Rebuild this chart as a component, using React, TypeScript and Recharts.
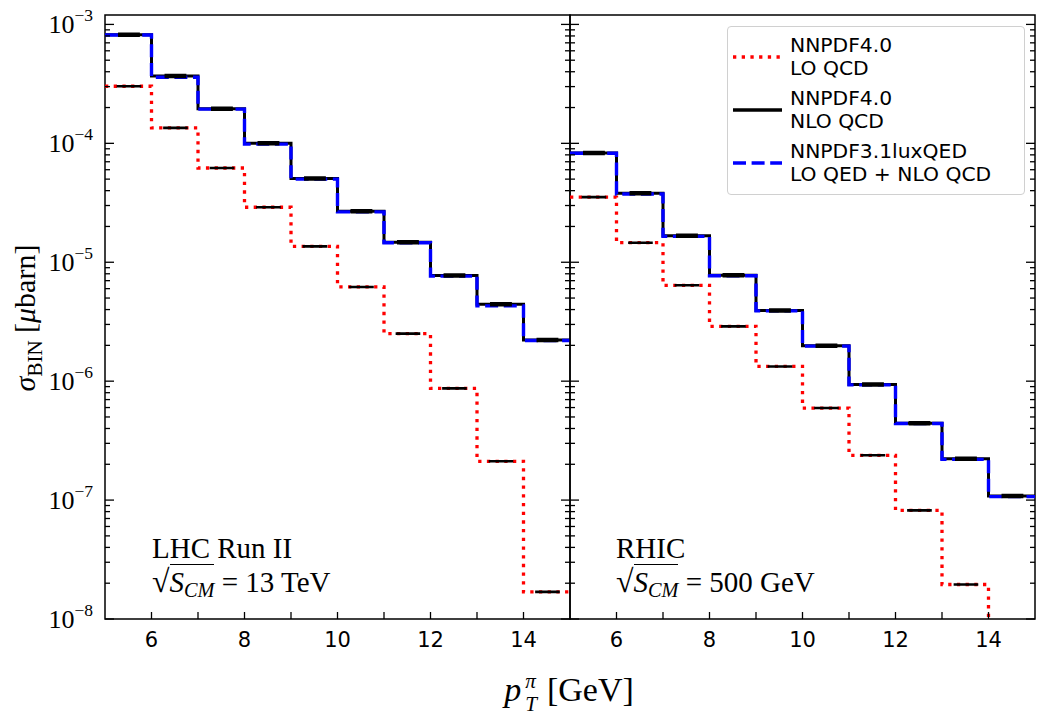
import React from 'react';
import { LineChart, Line, XAxis, YAxis, ReferenceArea } from 'recharts';

// bin edges in p_T (GeV), values are the per-bin cross sections in microbarn
const binEdges = [5, 6, 7, 8, 9, 10, 11, 12, 13, 14, 15];

const lhcLO = [3.02e-4, 1.35e-4, 6.2e-5, 2.9e-5, 1.36e-5, 6.2e-6, 2.51e-6, 8.7e-7, 2.12e-7, 1.69e-8];
const lhcNLO = [8.2e-4, 3.69e-4, 1.95e-4, 1.0e-4, 5.07e-5, 2.69e-5, 1.47e-5, 7.73e-6, 4.43e-6, 2.22e-6];
const lhcQED = [8.15e-4, 3.6e-4, 1.94e-4, 9.85e-5, 5.0e-5, 2.65e-5, 1.46e-5, 7.65e-6, 4.3e-6, 2.2e-6];

const rhicLO = [3.53e-5, 1.46e-5, 6.4e-6, 2.89e-6, 1.33e-6, 5.94e-7, 2.38e-7, 8.2e-8, 1.95e-8, 6e-9];
const rhicNLO = [8.3e-5, 3.8e-5, 1.67e-5, 7.76e-6, 3.93e-6, 1.99e-6, 9.36e-7, 4.43e-7, 2.23e-7, 1.08e-7];
const rhicQED = [8.25e-5, 3.75e-5, 1.65e-5, 7.7e-6, 3.9e-6, 1.97e-6, 9.3e-7, 4.4e-7, 2.2e-7, 1.07e-7];

const xTicks = [6, 7, 8, 9, 10, 11, 12, 13, 14];
const xLabelTicks = [6, 8, 10, 12, 14];
const yDecades = [1e-8, 1e-7, 1e-6, 1e-5, 1e-4, 1e-3];
const yMantissas = [1, 2, 3, 4, 5, 6, 7, 8, 9];
const yDomain = [1e-8, 1.2e-3];

const yTicks = yDecades.flatMap((d) => yMantissas.map((m) => m * d)).filter((v) => v <= yDomain[1]);

const SERIF = '"Liberation Serif", "DejaVu Serif", serif';
const SANS = '"DejaVu Sans", sans-serif';

const RED = '#ff0000';
const BLUE = '#0000ff';

const stepData = (vals: number[]) =>
  binEdges.map((x, i) => ({ x, y: vals[Math.min(i, vals.length - 1)] }));

// short black marks drawn across the middle of each bin
const bandData = (vals: number[], a: number, b: number) =>
  vals.flatMap((v, i) => [
    { x: binEdges[i] + a, y: v },
    { x: binEdges[i] + b, y: v },
    { x: binEdges[i] + b + 0.01, y: null },
  ]);

const isMajor = (v: number) => {
  const l = Math.log10(v);
  return Math.abs(l - Math.round(l)) < 1e-6;
};

const YTick = (props: any) => {
  const { x, y, payload, side, labels } = props;
  const v = payload.value;
  const major = isMajor(v);
  const len = major ? 9 : 5;
  const dir = side === 'left' ? 1 : -1;
  return (
    <g>
      <line x1={x} x2={x + dir * len} y1={y} y2={y} stroke="#000" strokeWidth={1.3} />
      {labels && major && (
        <text x={x - 12} y={y + 9} textAnchor="end" fontFamily={SERIF} fontSize={26} fill="#000">
          10
          <tspan dy={-12} fontSize={17.5}>
            {'\u2212' + Math.abs(Math.round(Math.log10(v)))}
          </tspan>
        </text>
      )}
    </g>
  );
};

const XTick = (props: any) => {
  const { x, y, payload } = props;
  const v = payload.value;
  return (
    <g>
      <line x1={x} x2={x} y1={y} y2={y - 7} stroke="#000" strokeWidth={1.3} />
      {xLabelTicks.includes(v) && (
        <text x={x} y={y + 28} textAnchor="middle" fontFamily={SANS} fontSize={21} fill="#000">
          {v}
        </text>
      )}
    </g>
  );
};

type PanelProps = {
  lo: number[];
  nlo: number[];
  qed: number[];
  left: number;
  width: number;
  leftAxisWidth: number;
  marginRight: number;
  labels: boolean;
};

const Panel = ({ lo, nlo, qed, left, width, leftAxisWidth, marginRight, labels }: PanelProps) => (
  <div style={{ position: 'absolute', left, top: 0 }}>
    <LineChart width={width} height={720} margin={{ top: 15, right: marginRight, bottom: 0, left: 0 }}>
      <XAxis
        dataKey="x"
        type="number"
        domain={[5, 15]}
        ticks={xTicks}
        interval={0}
        height={101}
        tickSize={0}
        tickMargin={0}
        axisLine={false}
        tickLine={false}
        tick={(p: any) => <XTick {...p} />}
      />
      <YAxis
        yAxisId="l"
        orientation="left"
        scale="log"
        type="number"
        domain={yDomain}
        allowDataOverflow
        ticks={yTicks}
        interval={0}
        width={leftAxisWidth}
        tickSize={0}
        tickMargin={0}
        axisLine={false}
        tickLine={false}
        tick={(p: any) => <YTick {...p} side="left" labels={labels} />}
      />
      <YAxis
        yAxisId="r"
        orientation="right"
        scale="log"
        type="number"
        domain={yDomain}
        allowDataOverflow
        ticks={yTicks}
        interval={0}
        width={2}
        tickSize={0}
        tickMargin={0}
        axisLine={false}
        tickLine={false}
        tick={(p: any) => <YTick {...p} side="right" labels={false} />}
      />
      <Line
        yAxisId="l"
        data={stepData(lo)}
        dataKey="y"
        type="stepAfter"
        stroke={RED}
        strokeWidth={3.3}
        strokeDasharray="3.3 5.4"
        dot={false}
        activeDot={false}
        isAnimationActive={false}
      />
      <Line
        yAxisId="l"
        data={bandData(lo, 0.25, 0.78)}
        dataKey="y"
        type="linear"
        stroke="#000"
        strokeWidth={2.6}
        dot={false}
        activeDot={false}
        isAnimationActive={false}
      />
      <Line
        yAxisId="l"
        data={stepData(nlo)}
        dataKey="y"
        type="stepAfter"
        stroke="#000"
        strokeWidth={3}
        dot={false}
        activeDot={false}
        isAnimationActive={false}
      />
      <Line
        yAxisId="l"
        data={stepData(qed)}
        dataKey="y"
        type="stepAfter"
        stroke={BLUE}
        strokeWidth={3.4}
        strokeDasharray="13 5.6"
        dot={false}
        activeDot={false}
        isAnimationActive={false}
      />
      <Line
        yAxisId="l"
        data={bandData(nlo, 0.28, 0.75)}
        dataKey="y"
        type="linear"
        stroke="#000"
        strokeWidth={4.5}
        dot={false}
        activeDot={false}
        isAnimationActive={false}
      />
      <ReferenceArea
        yAxisId="l"
        x1={5}
        x2={15}
        y1={yDomain[0]}
        y2={yDomain[1]}
        fill="none"
        fillOpacity={0}
        stroke="#000"
        strokeWidth={1.5}
        ifOverflow="visible"
      />
    </LineChart>
  </div>
);

const Sqrt = ({ energy }: { energy: string }) => (
  <span>
    <span style={{ fontSize: '1.1em' }}>√</span>
    <span style={{ borderTop: '1.5px solid #000', paddingTop: 1 }}>
      <i>S</i>
      <i style={{ fontSize: '0.7em', verticalAlign: '-0.25em' }}>CM</i>
    </span>
    {' = ' + energy}
  </span>
);

const Annotation = ({ left, title, energy }: { left: number; title: string; energy: string }) => (
  <div
    style={{
      position: 'absolute',
      left,
      top: 531,
      fontFamily: SERIF,
      fontSize: 29,
      lineHeight: '34px',
      whiteSpace: 'nowrap',
      color: '#000',
    }}
  >
    <div>{title}</div>
    <Sqrt energy={energy} />
  </div>
);

const legendItems = [
  { lines: ['NNPDF4.0', 'LO QCD'], color: RED, width: 3.3, dash: '3.3 5.4', cy: 57 },
  { lines: ['NNPDF4.0', 'NLO QCD'], color: '#000', width: 3.5, dash: undefined, cy: 110 },
  { lines: ['NNPDF3.1luxQED', 'LO QED + NLO QCD'], color: BLUE, width: 3.4, dash: '13 5.6', cy: 163 },
];

const LegendBox = () => (
  <>
    <div
      style={{
        position: 'absolute',
        left: 727,
        top: 26,
        width: 296,
        height: 167,
        border: '1.5px solid #d0d0d0',
        borderRadius: 4,
        background: 'rgba(255,255,255,0.85)',
      }}
    />
    {legendItems.map((it) => (
      <React.Fragment key={it.lines[0] + it.lines[1]}>
        <svg style={{ position: 'absolute', left: 733, top: it.cy - 5 }} width={50} height={10}>
          <line x1={0} x2={49} y1={5} y2={5} stroke={it.color} strokeWidth={it.width} strokeDasharray={it.dash} />
        </svg>
        <div
          style={{
            position: 'absolute',
            left: 790,
            top: it.cy - 23,
            fontFamily: SANS,
            fontSize: 20.3,
            lineHeight: '22.5px',
            whiteSpace: 'nowrap',
            color: '#000',
          }}
        >
          <div>{it.lines[0]}</div>
          <div>{it.lines[1]}</div>
        </div>
      </React.Fragment>
    ))}
  </>
);

export default function App() {
  return (
    <div style={{ position: 'absolute', left: 0, top: 0, width: 1058, height: 720, background: '#fff' }}>
      <Panel lo={lhcLO} nlo={lhcNLO} qed={lhcQED} left={0} width={572} leftAxisWidth={105} marginRight={0} labels />
      <Panel lo={rhicLO} nlo={rhicNLO} qed={rhicQED} left={568} width={470} leftAxisWidth={2} marginRight={1} labels={false} />
      <Annotation left={152} title="LHC Run II" energy="13 TeV" />
      <Annotation left={616} title="RHIC" energy="500 GeV" />
      <LegendBox />
      <div
        style={{
          position: 'absolute',
          left: 30,
          top: 318,
          transform: 'translate(-50%, -50%) rotate(-90deg)',
          fontFamily: SERIF,
          fontSize: 30,
          whiteSpace: 'nowrap',
          lineHeight: '34px',
        }}
      >
        <i>σ</i>
        <span style={{ fontSize: '0.7em', verticalAlign: '-0.3em' }}>BIN</span> [<i>μ</i>barn]
      </div>
      <div
        style={{
          position: 'absolute',
          left: 569,
          top: 692,
          transform: 'translate(-50%, -50%)',
          fontFamily: SERIF,
          fontSize: 34,
          whiteSpace: 'nowrap',
          lineHeight: '44px',
        }}
      >
        <i style={{ marginRight: 4 }}>p</i>
        <span
          style={{
            display: 'inline-flex',
            flexDirection: 'column',
            alignItems: 'flex-start',
            verticalAlign: 'middle',
            fontSize: '0.62em',
            lineHeight: '1.1em',
            fontStyle: 'italic',
            marginRight: 10,
          }}
        >
          <span>π</span>
          <span>T</span>
        </span>
        [GeV]
      </div>
    </div>
  );
}
